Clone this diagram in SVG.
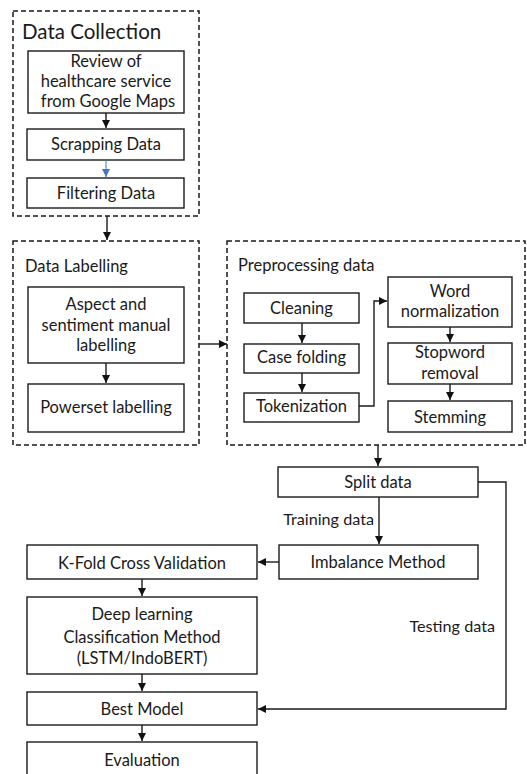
<svg xmlns="http://www.w3.org/2000/svg" width="527" height="774" viewBox="0 0 527 774">
  <defs>
    <marker id="arr" markerUnits="userSpaceOnUse" markerWidth="9" markerHeight="9" refX="8" refY="4.5" orient="auto">
      <path d="M0,0.5 L8,4.5 L0,8.5 Z" fill="#111"/>
    </marker>
    <marker id="arrBlue" markerUnits="userSpaceOnUse" markerWidth="9" markerHeight="9" refX="8" refY="4.5" orient="auto">
      <path d="M0,0.5 L8,4.5 L0,8.5 Z" fill="#4472C4"/>
    </marker>
    <style>
      .box { fill: #fff; stroke: #1a1a1a; stroke-width: 1.4; }
      .group { fill: none; stroke: #1a1a1a; stroke-width: 1.5; stroke-dasharray: 5 3; }
      .t { font-family: Lato, "Liberation Sans", sans-serif; font-size: 16.5px; fill: #1a1a1a; text-anchor: middle; }
      .title { font-family: Lato, "Liberation Sans", sans-serif; font-size: 16.5px; fill: #1a1a1a; }
      .big { font-size: 20.5px; }
      .lbl { font-family: Lato, "Liberation Sans", sans-serif; font-size: 16.2px; fill: #1a1a1a; text-anchor: end; }
      .c { fill: none; stroke: #1a1a1a; stroke-width: 1.4; marker-end: url(#arr); }
      .cb { fill: none; stroke: #4472C4; stroke-width: 1; marker-end: url(#arrBlue); }
    </style>
  </defs>

  <!-- stage containers -->
  <g id="data-collection">
    <rect class="group" x="13" y="11" width="186" height="205"/>
    <text class="title big" x="22" y="39">Data Collection</text>
  </g>
  <g id="data-labelling">
    <rect class="group" x="13" y="241" width="186" height="204"/>
    <text class="title" x="25" y="272">Data Labelling</text>
  </g>
  <g id="preprocessing">
    <rect class="group" x="227" y="241" width="298" height="204"/>
    <text class="title" x="238" y="271">Preprocessing data</text>
  </g>

  <!-- process steps -->
  <g id="review">
    <rect class="box" x="28" y="51" width="156" height="62"/>
    <text class="t" x="106" y="67">Review  of</text>
    <text class="t" x="106" y="87">healthcare service</text>
    <text class="t" x="108" y="107">from Google Maps</text>
  </g>
  <g id="scrapping">
    <rect class="box" x="27" y="129" width="157" height="31"/>
    <text class="t" x="106" y="150">Scrapping Data</text>
  </g>
  <g id="filtering">
    <rect class="box" x="27" y="178" width="157" height="30"/>
    <text class="t" x="106" y="199">Filtering Data</text>
  </g>
  <g id="aspect">
    <rect class="box" x="28" y="287" width="156" height="76"/>
    <text class="t" x="106" y="310">Aspect and</text>
    <text class="t" x="106" y="331">sentiment manual</text>
    <text class="t" x="106" y="351">labelling</text>
  </g>
  <g id="powerset">
    <rect class="box" x="28" y="384" width="156" height="48"/>
    <text class="t" x="106" y="413">Powerset labelling</text>
  </g>
  <g id="cleaning">
    <rect class="box" x="244" y="293" width="115" height="30"/>
    <text class="t" x="301.5" y="314">Cleaning</text>
  </g>
  <g id="case-folding">
    <rect class="box" x="244" y="344" width="115" height="29"/>
    <text class="t" x="301.5" y="363">Case folding</text>
  </g>
  <g id="tokenization">
    <rect class="box" x="244" y="393" width="115" height="29"/>
    <text class="t" x="301.5" y="412">Tokenization</text>
  </g>
  <g id="word-normalization">
    <rect class="box" x="388" y="277" width="124" height="50"/>
    <text class="t" x="450" y="297">Word</text>
    <text class="t" x="450" y="317">normalization</text>
  </g>
  <g id="stopword">
    <rect class="box" x="388" y="343" width="124" height="41"/>
    <text class="t" x="450" y="358">Stopword</text>
    <text class="t" x="450" y="379">removal</text>
  </g>
  <g id="stemming">
    <rect class="box" x="388" y="401" width="124" height="31"/>
    <text class="t" x="450" y="423">Stemming</text>
  </g>
  <g id="split">
    <rect class="box" x="278" y="467" width="200" height="30"/>
    <text class="t" x="378" y="488">Split data</text>
  </g>
  <g id="imbalance">
    <rect class="box" x="279" y="545" width="199" height="34"/>
    <text class="t" x="378" y="568">Imbalance Method</text>
  </g>
  <g id="kfold">
    <rect class="box" x="27" y="545" width="230" height="34"/>
    <text class="t" x="142" y="569">K-Fold Cross Validation</text>
  </g>
  <g id="deep-learning">
    <rect class="box" x="27" y="597" width="230" height="77"/>
    <text class="t" x="142" y="620">Deep learning</text>
    <text class="t" x="142" y="643">Classification Method</text>
    <text class="t" x="142" y="664">(LSTM/IndoBERT)</text>
  </g>
  <g id="best-model">
    <rect class="box" x="27" y="692" width="230" height="33"/>
    <text class="t" x="142" y="715">Best Model</text>
  </g>
  <g id="evaluation">
    <rect class="box" x="27" y="742" width="230" height="40"/>
    <text class="t" x="142" y="766">Evaluation</text>
  </g>

  <!-- connectors -->
  <g id="connectors">
    <path class="c" d="M106,113 V128"/>
    <path class="cb" d="M106,160 V177"/>
    <path class="c" d="M107,216 V240"/>
    <path class="c" d="M106,363 V383"/>
    <path class="c" d="M199,344 H227"/>
    <path class="c" d="M302,323 V343"/>
    <path class="c" d="M302,373 V392"/>
    <path class="c" d="M359,406 H374 V301 H387"/>
    <path class="c" d="M450,327 V342"/>
    <path class="c" d="M450,384 V400"/>
    <path class="c" d="M378,445 V466"/>
    <path class="c" d="M379,497 V544"/>
    <path class="c" d="M279,562 H258"/>
    <path class="c" d="M142,579 V596"/>
    <path class="c" d="M142,674 V691"/>
    <path class="c" d="M142,725 V741"/>
    <path class="c" d="M478,482 H506 V709 H258"/>
    <text class="lbl" x="374" y="525">Training data</text>
    <text class="lbl" x="495" y="632">Testing data</text>
  </g>
</svg>
